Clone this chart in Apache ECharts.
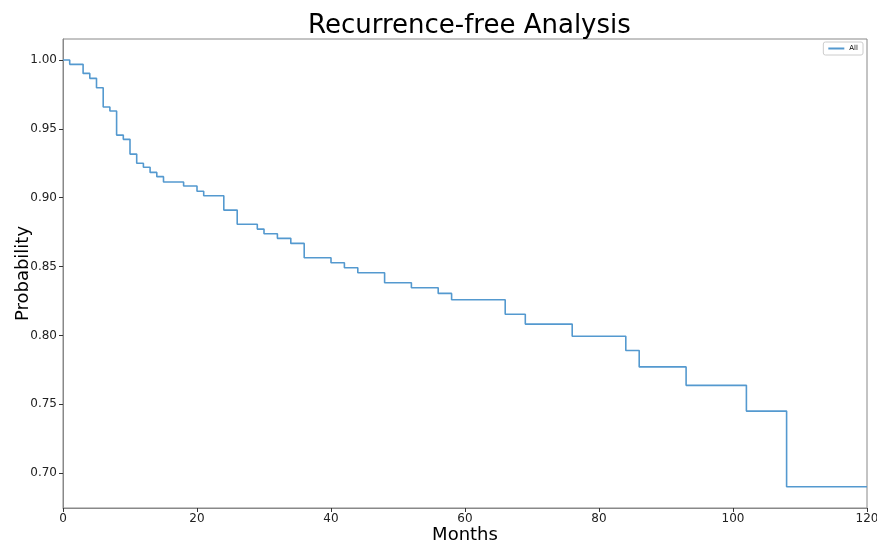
<!DOCTYPE html>
<html lang="en">
<head>
    <meta charset="UTF-8">
    <title>Recurrence-free Analysis</title>
    <script src="https://cdn.jsdelivr.net/npm/echarts@6/dist/echarts.min.js"></script>
    <style>
        body { margin: 0; background: #fff; }
        #chart { width: 877px; height: 542px; }
    </style>
</head>
<body>
    <div id="chart"></div>
    <script>
        // step points: month, survival probability
        const months = [0, 1, 3, 4, 5, 6, 7, 8, 9, 10, 11, 12, 13, 14, 15, 18, 20, 21, 24, 26,
            29, 30, 32, 34, 36, 40, 42, 44, 48, 52, 56, 58, 66, 69, 76, 84, 86, 93, 102, 108, 120];
        const probability = [1.0, 0.9969, 0.9903, 0.9867, 0.9799, 0.9659, 0.963, 0.9455, 0.9424, 0.9317,
            0.925, 0.9221, 0.9184, 0.9153, 0.9114, 0.9085, 0.9047, 0.9014, 0.891, 0.8807,
            0.8772, 0.8738, 0.8705, 0.8668, 0.8564, 0.8528, 0.8491, 0.8455, 0.8382, 0.8346,
            0.8305, 0.8259, 0.8153, 0.8082, 0.7994, 0.789, 0.7771, 0.7637, 0.745, 0.69, 0.69];
        const xTicks = [0, 20, 40, 60, 80, 100, 120];
        const yTicks = [0.70, 0.75, 0.80, 0.85, 0.90, 0.95, 1.00];

        const font = 'DejaVu Sans';
        const chart = echarts.init(document.getElementById('chart'));
        chart.setOption({
            animation: false,
            title: {
                text: 'Recurrence-free Analysis',
                left: 303,
                top: 8,
                textStyle: { fontFamily: font, fontSize: 26, fontWeight: 'normal', color: '#000' }
            },
            legend: {
                data: ['All'],
                right: 14,
                top: 42,
                itemWidth: 16,
                itemHeight: 2,
                itemGap: 4,
                padding: [3, 5],
                borderColor: '#ccc',
                borderWidth: 1,
                borderRadius: 2,
                icon: 'rect',
                textStyle: { fontFamily: font, fontSize: 7, color: '#000' }
            },
            grid: {
                left: 63, right: 10, top: 39, bottom: 34,
                outerBoundsMode: 'none',
                containLabel: false,
                show: true,
                borderColor: '#888',
                borderWidth: 1
            },
            xAxis: {
                type: 'value',
                min: 0,
                max: 120,
                name: 'Months',
                nameLocation: 'middle',
                nameGap: 18,
                nameMoveOverlap: false,
                nameTextStyle: { fontFamily: font, fontSize: 18, color: '#000' },
                axisLine: { lineStyle: { color: '#888' } },
                axisTick: { length: 4, lineStyle: { color: '#333' }, customValues: xTicks },
                axisLabel: { fontFamily: font, fontSize: 12, color: '#222', margin: 5, customValues: xTicks },
                splitLine: { show: false }
            },
            yAxis: {
                type: 'value',
                min: 0.6746,
                max: 1.0153,
                name: 'Probability',
                nameLocation: 'middle',
                nameGap: 31,
                nameMoveOverlap: false,
                nameTextStyle: { fontFamily: font, fontSize: 18, color: '#000' },
                axisLine: { show: true, lineStyle: { color: '#888' } },
                axisTick: { show: true, length: 4, lineStyle: { color: '#333' }, customValues: yTicks },
                axisLabel: {
                    fontFamily: font, fontSize: 12, color: '#222', margin: 6,
                    customValues: yTicks,
                    formatter: v => v.toFixed(2)
                },
                splitLine: { show: false }
            },
            series: [{
                name: 'All',
                type: 'line',
                step: 'end',
                data: months.map((m, i) => [m, probability[i]]),
                showSymbol: false,
                lineStyle: { color: '#5499cf', width: 1.6 },
                itemStyle: { color: '#5499cf' }
            }]
        });
    </script>
</body>
</html>
